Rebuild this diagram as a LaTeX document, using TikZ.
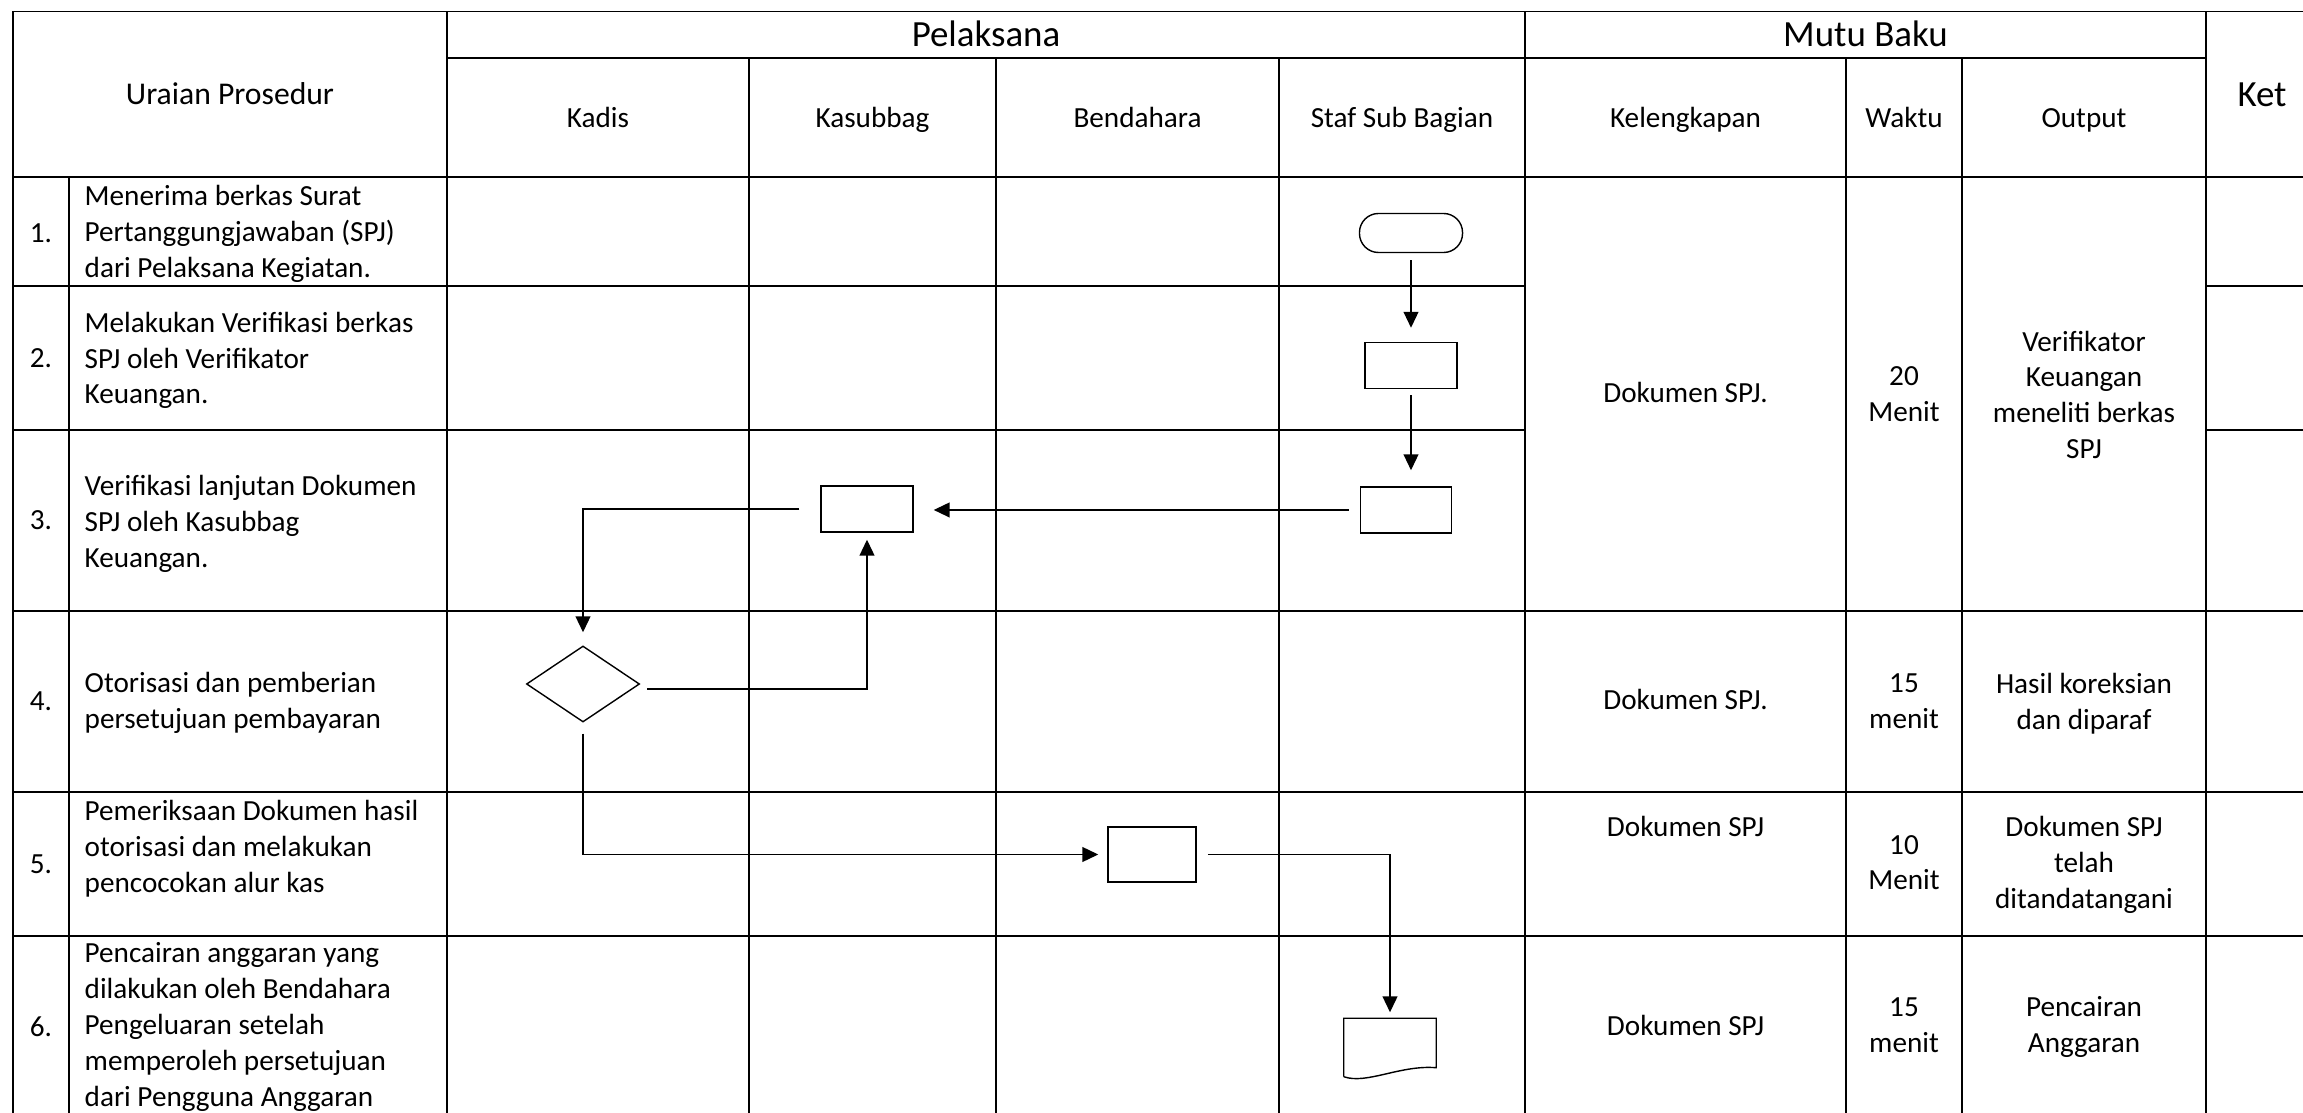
\documentclass[tikz,border=0pt]{standalone}
\usepackage{fontspec}
\setmainfont{Carlito}
\usepackage{tikz}
\usetikzlibrary{arrows.meta,positioning,shapes.geometric}
\newcommand\bodyfont{\fontsize{8.3}{10.2}\selectfont}
\newcommand\headfont{\fontsize{10.5}{12.8}\selectfont}
\newcommand\uraifont{\fontsize{9}{11}\selectfont}
\tikzset{
  gridline/.style={draw=black, line width=0.5pt},
  headtext/.style={font=\headfont, inner sep=0pt, anchor=base},
  subtext/.style={font=\bodyfont, inner sep=0pt, anchor=base},
  celltext/.style={font=\bodyfont, align=center, inner sep=0pt},
  desctext/.style={font=\bodyfont, align=left, inner sep=0pt, anchor=west},
  flowshape/.style={draw=black, line width=0.4pt, inner sep=0pt},
  procbox/.style={flowshape, rectangle,
    minimum width=#1, minimum height=0.46cm},
  procbox/.default=0.92cm,
  termbox/.style={flowshape, rectangle, rounded corners=0.19cm,
    minimum width=1.03cm, minimum height=0.39cm},
  decbox/.style={flowshape, diamond,
    minimum width=1.13cm, minimum height=0.76cm},
  docnode/.style={rectangle, inner sep=0pt,
    minimum width=0.91cm, minimum height=0.57cm},
  flowarrow/.style={-{Triangle[length=4.5pt,width=4.2pt]}, line width=0.4pt},
}

\begin{document}
\begin{tikzpicture}[x=0.01cm, y=-0.01cm]
\useasboundingbox (0,0) rectangle (2303,1113);

% Table grid
\draw[gridline] (13,11.5) -- (2303,11.5);
\draw[gridline] (447,58) -- (2206,58);
\foreach \y in {177,611,792,936}
  \draw[gridline] (13,\y) -- (2303,\y);
\foreach \y in {286,430} {
  \draw[gridline] (13,\y) -- (1525,\y);
  \draw[gridline] (2206,\y) -- (2303,\y);
}
\foreach \x in {13,447,1525,2206}
  \draw[gridline] (\x,11.5) -- (\x,1113);
\foreach \x in {749,996,1279,1846,1962}
  \draw[gridline] (\x,58) -- (\x,1113);
\draw[gridline] (69,177) -- (69,1113);

% Headers
\node[font=\uraifont, inner sep=0pt, anchor=base] (hUrai) at (230,105) {Uraian Prosedur};
\node[headtext] (hPel) at (986,47) {Pelaksana};
\node[headtext] (hMutu) at (1865.5,47) {Mutu Baku};
\node[headtext] (hKet) at (2262,107) {Ket};
\node[subtext] (hKadis) at (598,127.5) {Kadis};
\node[subtext] (hKasub) at (872.5,127.5) {Kasubbag};
\node[subtext] (hBend) at (1137.5,127.5) {Bendahara};
\node[subtext] (hStaf) at (1402,127.5) {Staf Sub Bagian};
\node[subtext] (hLengkap) at (1685.5,127.5) {Kelengkapan};
\node[subtext] (hWaktu) at (1904,127.5) {Waktu};
\node[subtext] (hOutput) at (2084,127.5) {Output};

% Uraian prosedur
\node[subtext] (no1) at (41,243) {1.};
\node[subtext] (no2) at (41,368) {2.};
\node[subtext] (no3) at (41,530) {3.};
\node[subtext] (no4) at (41,711) {4.};
\node[subtext] (no5) at (41,873) {5.};
\node[subtext] (no6) at (41,1036.5) {6.};
\node[desctext] (ds1) at (84,233.7) {Menerima berkas Surat\\Pertanggungjawaban (SPJ)\\dari Pelaksana Kegiatan.};
\node[desctext] (ds2) at (84,360.5) {Melakukan Verifikasi berkas\\SPJ oleh Verifikator\\Keuangan.};
\node[desctext] (ds3) at (84,524) {Verifikasi lanjutan Dokumen\\SPJ oleh Kasubbag\\Keuangan.};
\node[desctext] (ds4) at (84,703) {Otorisasi dan pemberian\\persetujuan pembayaran};
\node[desctext, anchor=north west] (ds5) at (84,799.5) {Pemeriksaan Dokumen hasil\\otorisasi dan melakukan\\pencocokan alur kas};
\node[desctext] (ds6) at (84,1027) {Pencairan anggaran yang\\dilakukan oleh Bendahara\\Pengeluaran setelah\\memperoleh persetujuan\\dari Pengguna Anggaran};

% Mutu baku
\node[subtext] (kl1) at (1685.5,403) {Dokumen SPJ.};
\node[subtext] (kl4) at (1685.5,710) {Dokumen SPJ.};
\node[subtext] (kl5) at (1685.5,837) {Dokumen SPJ};
\node[subtext] (kl6) at (1685.5,1035) {Dokumen SPJ};
\node[celltext] (wk1) at (1904,394) {20\\Menit};
\node[celltext] (wk4) at (1904,701.6) {15\\menit};
\node[celltext] (wk5) at (1904,862.6) {10\\Menit};
\node[celltext] (wk6) at (1904,1025) {15\\menit};
\node[celltext] (out1) at (2084,394.8) {Verifikator\\Keuangan\\meneliti berkas\\SPJ};
\node[celltext] (out4) at (2084,703.7) {Hasil koreksian\\dan diparaf};
\node[celltext] (out5) at (2084,865) {Dokumen SPJ\\telah\\ditandatangani};
\node[celltext] (out6) at (2084,1027) {Pencairan\\Anggaran};

% Flowchart
\node[termbox] (start) at (1411,233) {};
\node[procbox, below=0.885cm of start] (verif) {};
\node[procbox=0.91cm, below=0.97cm of verif, xshift=-0.05cm] (lanjut) {};
\node[procbox] (kasub) at (867,509) {};
\node[decbox] (otor) at (583,684) {};
\node[procbox=0.88cm, minimum height=0.55cm] (periksa) at (1152,854.5) {};
\node[docnode] (cair) at (1390,1047.5) {};
\draw[line width=0.4pt] (cair.south west) -- (cair.north west) -- (cair.north east)
  -- ([yshift=0.09cm]cair.south east)
  .. controls ([shift={(-36,-12)}]cair.south east) and ([shift={(23,8)}]cair.south west)
  .. (cair.south west);

% Main flow
\draw[flowarrow, shorten <=0.07cm, shorten >=0.14cm] (start) -- (verif);
\draw[flowarrow, shorten <=0.06cm, shorten >=0.16cm] (verif.south) -- (verif.south |- lanjut.north);
\draw[flowarrow, shorten <=0.11cm, shorten >=0.2cm] (lanjut.west) -- (kasub.east |- lanjut.west);
\draw[flowarrow, shorten <=0.21cm, shorten >=0.13cm] (kasub.west) -| (otor.north);
\draw[flowarrow, shorten <=0.07cm, shorten >=0.07cm] ([yshift=-0.05cm]otor.east) -| (kasub.south);
\draw[flowarrow, shorten <=0.11cm, shorten >=0.09cm] (otor.south) |- (periksa.west);
\draw[flowarrow, shorten <=0.11cm, shorten >=0.06cm] (periksa.east) -| (cair.north);

\end{tikzpicture}
\end{document}
